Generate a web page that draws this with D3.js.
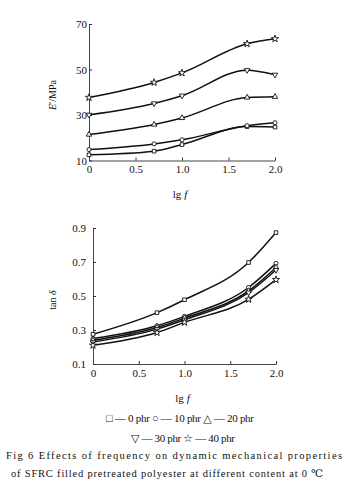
<!DOCTYPE html>
<html><head><meta charset="utf-8">
<script src="https://cdn.jsdelivr.net/npm/d3@7"></script>
<style>body{margin:0;background:#fff}svg{display:block}text{font-family:"Liberation Serif","DejaVu Serif",serif;fill:#111}</style>
</head><body>
<script>
const xValues = [0, 0.7, 1.0, 1.7, 2.0];
const xTicks = [0, 0.5, 1.0, 1.5, 2.0];
const xTickLabels = ["0", "0.5", "1.0", "1.5", "2.0"];
const seriesNames = ["0 phr", "10 phr", "20 phr", "30 phr", "40 phr"];
const seriesSymbols = ["square", "circle", "triangle", "triangleDown", "star"];
// Top panel: E'/MPa
const modulus0 = [12.5, 14.1, 17.0, 24.9, 24.7];
const modulus10 = [14.8, 17.3, 19.1, 25.3, 26.6];
const modulus20 = [21.4, 25.8, 28.7, 37.7, 38.0];
const modulus30 = [30.1, 35.1, 38.5, 49.7, 47.7];
const modulus40 = [37.7, 44.3, 48.5, 61.3, 63.5];
const modulusTicks = [10, 30, 50, 70];
// Bottom panel: tan delta
const tan0 = [0.275, 0.402, 0.478, 0.697, 0.873];
const tan10 = [0.25, 0.325, 0.38, 0.55, 0.692];
const tan20 = [0.24, 0.315, 0.37, 0.53, 0.668];
const tan30 = [0.23, 0.305, 0.36, 0.52, 0.653];
const tan40 = [0.21, 0.285, 0.345, 0.48, 0.596];
const tanTicks = [0.1, 0.3, 0.5, 0.7, 0.9];
const legendLine1 = ["□ — 0 phr", "○ — 10 phr", "△ — 20 phr"];
const legendLine2 = ["▽ — 30 phr", "☆ — 40 phr"];
const caption1 = "Fig 6   Effects of frequency on dynamic mechanical properties";
const caption2 = "of SFRC filled pretreated polyester at different content at 0 ℃";

const W = 350, H = 496;
const svg = d3.select("body").append("svg").attr("width", W).attr("height", H);

const symMap = {
  square: d3.symbolSquare, circle: d3.symbolCircle, triangle: d3.symbolTriangle,
  triangleDown: d3.symbolTriangle, star: d3.symbolStar
};

function panel(opts) {
  const {x0, x1, yTop, yBot, domain, ticks, tickFmt, series, ylabel, ylabelY, xlabelY, ypad} = opts;
  const x = d3.scaleLinear().domain([0, 2]).range([x0, x1]);
  const y = d3.scaleLinear().domain(domain).range([yBot, yTop]);
  const g = svg.append("g");
  const xa = d3.axisBottom(x).tickValues(xTicks).tickFormat((d, i) => xTickLabels[i]).tickSizeInner(-3).tickSizeOuter(0).tickPadding(6);
  const ya = d3.axisLeft(y).tickValues(ticks).tickFormat(tickFmt).tickSizeInner(-3).tickSizeOuter(0).tickPadding(ypad);
  const gx = g.append("g").attr("transform", `translate(0,${yBot})`).call(xa);
  const gy = g.append("g").attr("transform", `translate(${x0},0)`).call(ya);
  [gx, gy].forEach(a => {
    a.select(".domain").attr("stroke", "#444").attr("stroke-width", 1);
    a.selectAll(".tick line").attr("stroke", "#333");
    a.selectAll("text").style("font-family", '"Liberation Serif",serif').style("font-size", "11px").attr("fill", "#111");
  });
  gx.selectAll(".tick text").attr("dy", "0.6em");
  gy.selectAll(".tick text").attr("dx", "2px");
  const line = d3.line().x((d, i) => x(xValues[i])).y(d => y(d)).curve(d3.curveMonotoneX);
  series.forEach((s, k) => {
    g.append("path").attr("d", line(s)).attr("fill", "none").attr("stroke", "#111").attr("stroke-width", 1.5);
    const sym = d3.symbol().type(symMap[seriesSymbols[k]]).size(seriesSymbols[k] === "star" ? 16 : 13);
    g.selectAll(null).data(s).enter().append("path")
      .attr("d", sym)
      .attr("transform", (d, i) => `translate(${x(xValues[i])},${y(d)})${seriesSymbols[k] === "triangleDown" ? " rotate(180)" : ""}`)
      .attr("fill", "#fff").attr("stroke", "#111").attr("stroke-width", 0.9);
  });
  const yl = g.append("text").attr("transform", `translate(56,${ylabelY}) rotate(-90)`).attr("text-anchor", "middle").style("font-size", "10px");
  ylabel(yl);
  g.append("text").attr("x", (x0 + x1) / 2 - 2).attr("y", xlabelY).attr("text-anchor", "middle").style("font-size", "11px")
    .html('lg <tspan font-style="italic">f</tspan>');
}

panel({
  x0: 89, x1: 275, yTop: 24, yBot: 160.5, domain: [10, 70], ticks: modulusTicks, tickFmt: d3.format("d"), ypad: 4,
  series: [modulus0, modulus10, modulus20, modulus30, modulus40],
  ylabel: t => t.html('<tspan font-style="italic">E</tspan>′/MPa'), ylabelY: 95, xlabelY: 198
});
panel({
  x0: 93, x1: 276, yTop: 228, yBot: 364, domain: [0.1, 0.9], ticks: tanTicks, tickFmt: d3.format(".1f"), ypad: 9,
  series: [tan0, tan10, tan20, tan30, tan40],
  ylabel: t => t.html('tan <tspan font-style="italic">δ</tspan>'), ylabelY: 300, xlabelY: 402
});

svg.append("text").attr("x", 180).attr("y", 422).attr("text-anchor", "middle").style("font-size", "11px")
  .attr("textLength", 148).text(legendLine1.join("  "));
svg.append("text").attr("x", 183).attr("y", 442).attr("text-anchor", "middle").style("font-size", "11px")
  .attr("textLength", 104).text(legendLine2.join("  "));
svg.append("text").attr("x", 6).attr("y", 459).style("font-size", "10.5px")
  .attr("textLength", 336).attr("lengthAdjust", "spacing").text(caption1);
svg.append("text").attr("x", 11).attr("y", 477).style("font-size", "10.5px")
  .attr("textLength", 312).attr("lengthAdjust", "spacing").text(caption2);
</script>
</body></html>
